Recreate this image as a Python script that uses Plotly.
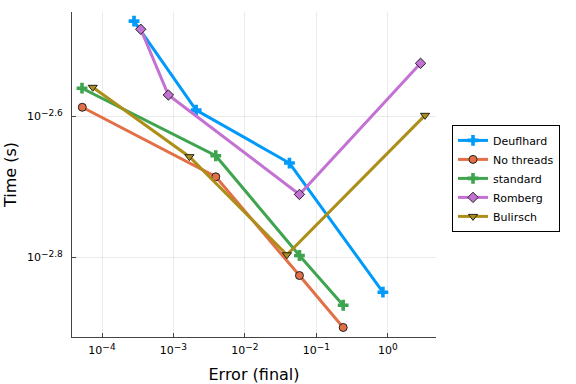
import plotly.graph_objects as go

# Data (log10 values)
names = ["Deuflhard", "No threads", "standard", "Romberg", "Bulirsch"]
deuf_logerr = [-3.552, -2.683, -1.377, -0.069]
deuf_logtime = [-2.465, -2.591, -2.666, -2.849]
nothr_logerr = [-4.276, -2.408, -1.237, -0.625]
nothr_logtime = [-2.587, -2.6855, -2.8254, -2.899]
std_logerr = [-4.28, -2.408, -1.237, -0.625]
std_logtime = [-2.560, -2.6557, -2.797, -2.8675]
romb_logerr = [-3.458, -3.071, -1.237, 0.458]
romb_logtime = [-2.4765, -2.5696, -2.7105, -2.5247]
buli_logerr = [-4.13, -2.777, -1.413, 0.52]
buli_logtime = [-2.5587, -2.657, -2.796, -2.5984]

xtick_exp = [-4, -3, -2, -1, 0]
ytick_exp = [-2.8, -2.6]

colors = ["#009AFA", "#E36F47", "#3EA44E", "#C371D2", "#AC8E18"]
symbols = ["cross", "circle", "cross", "diamond", "triangle-down"]
series = [
    (deuf_logerr, deuf_logtime),
    (nothr_logerr, nothr_logtime),
    (std_logerr, std_logtime),
    (romb_logerr, romb_logtime),
    (buli_logerr, buli_logtime),
]

fig = go.Figure()
for name, (lx, ly), c, s in zip(names, series, colors, symbols):
    outline = c if s == "cross" else "#222222"
    fig.add_trace(go.Scatter(
        x=[10 ** v for v in lx], y=[10 ** v for v in ly],
        mode="lines+markers", name=name,
        line=dict(color=c, width=3),
        marker=dict(symbol=s, size=8 if s != "cross" else 9, color=c,
                    line=dict(color=outline, width=1 if s != "cross" else 0)),
    ))

def sup(e):
    t = ("%g" % e).replace("-", "\u2212")
    return "10<sup><span style='font-size:9px'>" + t + "</span></sup>"

fig.update_layout(
    width=576, height=384,
    margin=dict(l=72, r=140, t=12, b=47),
    paper_bgcolor="white", plot_bgcolor="white",
    font=dict(family="DejaVu Sans", size=12, color="#000000"),
    legend=dict(x=1.044, y=0.488, xanchor="left", yanchor="middle",
                bordercolor="#000000", borderwidth=1,
                font=dict(size=11), tracegroupgap=0,
                itemwidth=30),
    showlegend=True,
)
fig.update_xaxes(
    type="log", range=[-4.42, 0.674], automargin=False,
    tickvals=[10 ** e for e in xtick_exp], ticktext=[sup(e) for e in xtick_exp],
    ticks="inside", ticklen=4, tickcolor="#444444", ticklabelstandoff=3,
    showline=True, linecolor="#444444", linewidth=1, mirror=False,
    showgrid=True, gridcolor="rgba(0,0,0,0.08)", gridwidth=1, zeroline=False,
    title=dict(text="Error (final)", font=dict(size=16), standoff=12),
    tickfont=dict(size=11),
)
fig.update_yaxes(
    type="log", range=[-2.9125, -2.452], automargin=False,
    tickvals=[10 ** e for e in ytick_exp], ticktext=[sup(e) for e in ytick_exp],
    ticks="inside", ticklen=4, tickcolor="#444444", ticklabelstandoff=6,
    showline=True, linecolor="#444444", linewidth=1, mirror=False,
    showgrid=True, gridcolor="rgba(0,0,0,0.08)", gridwidth=1, zeroline=False,
    title=dict(text="Time (s)", font=dict(size=16), standoff=6),
    tickfont=dict(size=11),
)

fig.write_html("out.html", config={"displayModeBar": False},
               post_script="document.body.style.margin='0';document.body.style.padding='0';")
